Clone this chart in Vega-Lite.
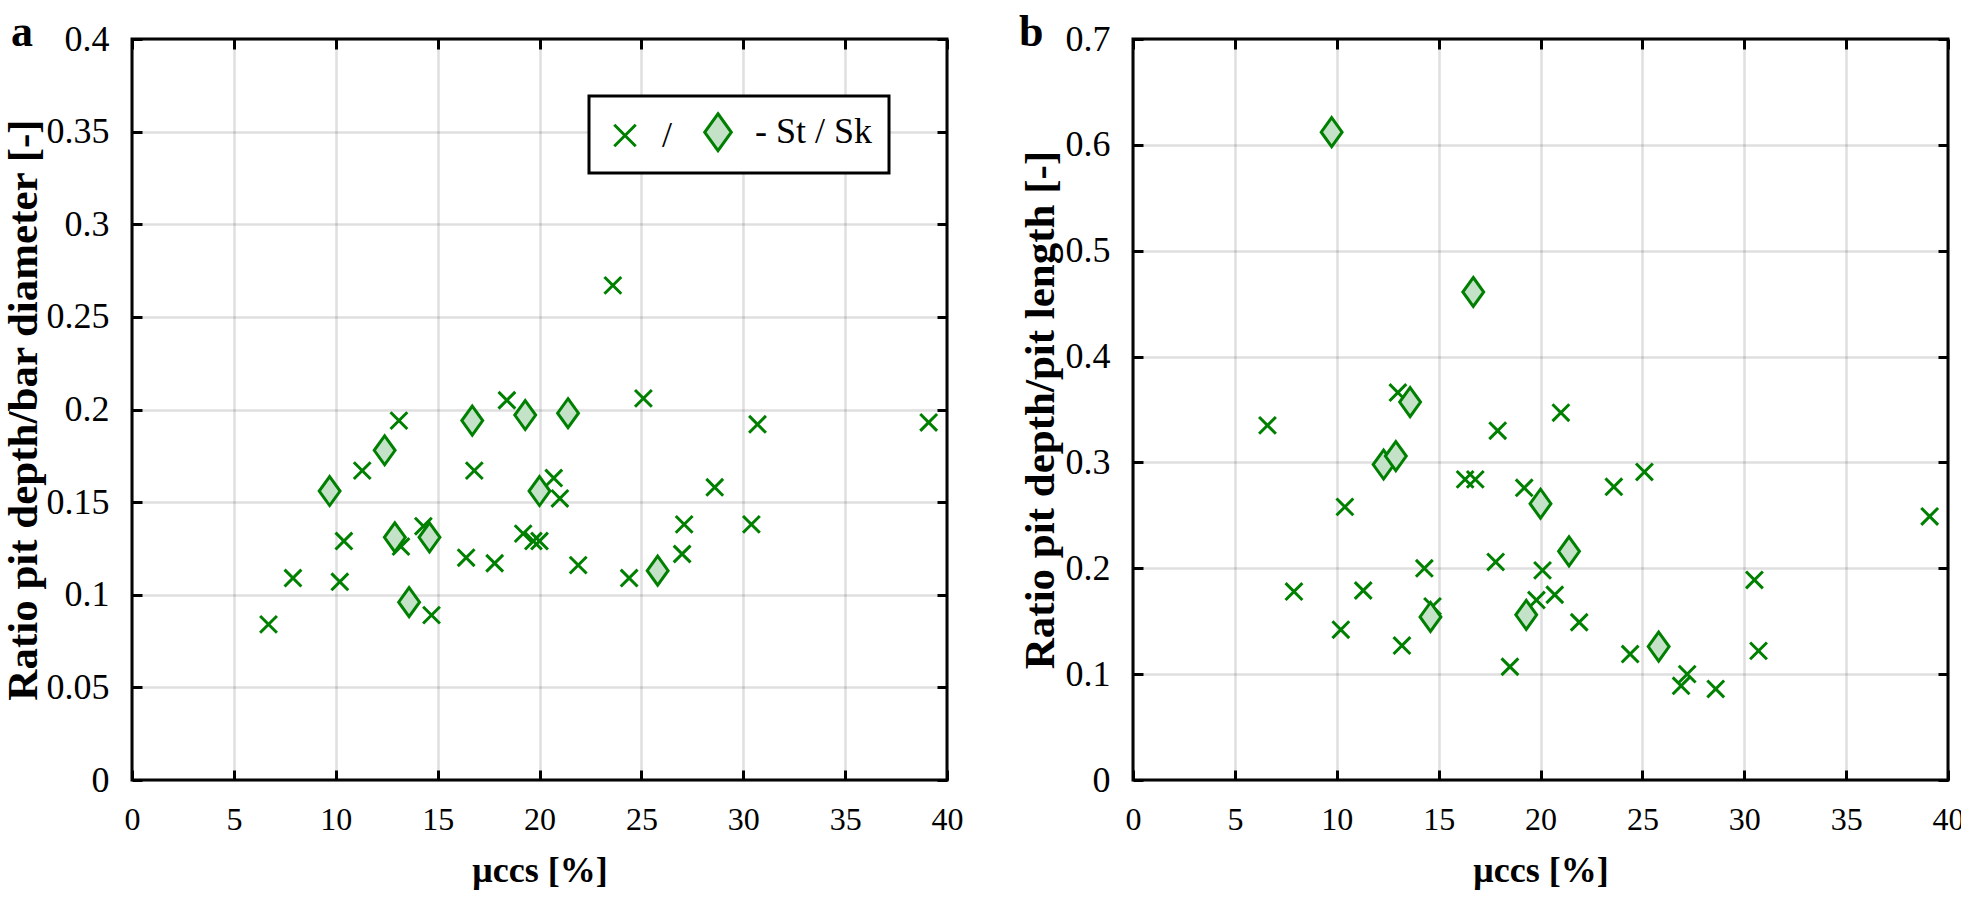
{
  "$schema": "https://vega.github.io/schema/vega-lite/v6.json",
  "background": "white",
  "padding": {"left": 0, "top": 9, "right": 0, "bottom": 0},
  "spacing": 52,
  "datasets": {
    "a": [
      {"mu": 6.7, "r": 0.084, "type": "St"},
      {"mu": 7.9, "r": 0.109, "type": "St"},
      {"mu": 10.2, "r": 0.107, "type": "St"},
      {"mu": 10.4, "r": 0.129, "type": "St"},
      {"mu": 11.3, "r": 0.167, "type": "St"},
      {"mu": 13.1, "r": 0.194, "type": "St"},
      {"mu": 13.2, "r": 0.126, "type": "St"},
      {"mu": 14.3, "r": 0.137, "type": "St"},
      {"mu": 14.7, "r": 0.089, "type": "St"},
      {"mu": 16.4, "r": 0.12, "type": "St"},
      {"mu": 16.8, "r": 0.167, "type": "St"},
      {"mu": 17.8, "r": 0.117, "type": "St"},
      {"mu": 18.4, "r": 0.205, "type": "St"},
      {"mu": 19.2, "r": 0.133, "type": "St"},
      {"mu": 19.7, "r": 0.129, "type": "St"},
      {"mu": 20.0, "r": 0.129, "type": "St"},
      {"mu": 20.7, "r": 0.163, "type": "St"},
      {"mu": 21.0, "r": 0.152, "type": "St"},
      {"mu": 21.9, "r": 0.116, "type": "St"},
      {"mu": 23.6, "r": 0.267, "type": "St"},
      {"mu": 24.4, "r": 0.109, "type": "St"},
      {"mu": 25.1, "r": 0.206, "type": "St"},
      {"mu": 27.0, "r": 0.122, "type": "St"},
      {"mu": 27.1, "r": 0.138, "type": "St"},
      {"mu": 28.6, "r": 0.158, "type": "St"},
      {"mu": 30.4, "r": 0.138, "type": "St"},
      {"mu": 30.7, "r": 0.192, "type": "St"},
      {"mu": 39.1, "r": 0.193, "type": "St"},
      {"mu": 9.7, "r": 0.156, "type": "Sk"},
      {"mu": 12.4, "r": 0.178, "type": "Sk"},
      {"mu": 12.9, "r": 0.131, "type": "Sk"},
      {"mu": 13.6, "r": 0.096, "type": "Sk"},
      {"mu": 14.6, "r": 0.131, "type": "Sk"},
      {"mu": 16.7, "r": 0.194, "type": "Sk"},
      {"mu": 19.3, "r": 0.197, "type": "Sk"},
      {"mu": 20.0, "r": 0.156, "type": "Sk"},
      {"mu": 21.4, "r": 0.198, "type": "Sk"},
      {"mu": 25.8, "r": 0.113, "type": "Sk"}
    ],
    "b": [
      {"mu": 6.6, "r": 0.335, "type": "St"},
      {"mu": 7.9, "r": 0.178, "type": "St"},
      {"mu": 10.2, "r": 0.142, "type": "St"},
      {"mu": 10.4, "r": 0.258, "type": "St"},
      {"mu": 11.3, "r": 0.179, "type": "St"},
      {"mu": 13.0, "r": 0.366, "type": "St"},
      {"mu": 13.2, "r": 0.127, "type": "St"},
      {"mu": 14.3, "r": 0.2, "type": "St"},
      {"mu": 14.7, "r": 0.164, "type": "St"},
      {"mu": 16.3, "r": 0.284, "type": "St"},
      {"mu": 16.8, "r": 0.284, "type": "St"},
      {"mu": 17.8, "r": 0.206, "type": "St"},
      {"mu": 17.9, "r": 0.33, "type": "St"},
      {"mu": 18.5, "r": 0.107, "type": "St"},
      {"mu": 19.2, "r": 0.276, "type": "St"},
      {"mu": 19.8, "r": 0.17, "type": "St"},
      {"mu": 20.1, "r": 0.198, "type": "St"},
      {"mu": 20.7, "r": 0.175, "type": "St"},
      {"mu": 21.0, "r": 0.347, "type": "St"},
      {"mu": 21.9, "r": 0.149, "type": "St"},
      {"mu": 23.6, "r": 0.277, "type": "St"},
      {"mu": 24.4, "r": 0.119, "type": "St"},
      {"mu": 25.1, "r": 0.291, "type": "St"},
      {"mu": 26.9, "r": 0.089, "type": "St"},
      {"mu": 27.2, "r": 0.1, "type": "St"},
      {"mu": 28.6, "r": 0.086, "type": "St"},
      {"mu": 30.5, "r": 0.189, "type": "St"},
      {"mu": 30.7, "r": 0.122, "type": "St"},
      {"mu": 39.1, "r": 0.249, "type": "St"},
      {"mu": 9.75, "r": 0.612, "type": "Sk"},
      {"mu": 12.3, "r": 0.298, "type": "Sk"},
      {"mu": 12.9, "r": 0.306, "type": "Sk"},
      {"mu": 13.6, "r": 0.357, "type": "Sk"},
      {"mu": 14.6, "r": 0.154, "type": "Sk"},
      {"mu": 16.7, "r": 0.461, "type": "Sk"},
      {"mu": 19.3, "r": 0.156, "type": "Sk"},
      {"mu": 20.0, "r": 0.261, "type": "Sk"},
      {"mu": 21.4, "r": 0.216, "type": "Sk"},
      {"mu": 25.8, "r": 0.126, "type": "Sk"}
    ]
  },
  "hconcat": [
    {
      "title": {"text": "a", "anchor": "start", "frame": "bounds", "fontSize": 44, "fontWeight": "bold", "font": "Liberation Serif", "color": "black", "dx": 9, "dy": 38},
      "width": 815,
      "height": 741,
      "data": {"name": "a"},
      "layer": [
        {
          "mark": {"type": "point", "strokeWidth": 3, "opacity": 1, "size": 841},
          "encoding": {
            "x": {"field": "mu", "type": "quantitative", "scale": {"domain": [0, 40], "nice": false, "zero": false},
              "axis": {"orient": "bottom", "offset": -10, "values": [0, 5, 10, 15, 20, 25, 30, 35, 40], "labelFont": "Liberation Serif", "labelFontSize": 32, "labelPadding": 24, "labelFlush": false, "labelOverlap": false, "grid": true, "title": "μccs [%]", "titleFont": "Liberation Serif", "titleFontSize": 36, "titleFontWeight": "bold", "titlePadding": 18}},
            "y": {"field": "r", "type": "quantitative", "scale": {"domain": [0, 0.4], "nice": false},
              "axis": {"orient": "left", "offset": -10, "values": [0, 0.05, 0.1, 0.15, 0.2, 0.25, 0.3, 0.35, 0.4], "format": "~g", "labelFont": "Liberation Serif", "labelFontSize": 36, "labelAlign": "right", "labelBaseline": "middle", "labelPadding": 23, "labelFlush": false, "labelOverlap": false, "grid": true, "title": "Ratio pit depth/bar diameter [-]", "titleFont": "Liberation Serif", "titleFontSize": 43, "titleFontWeight": "bold", "titlePadding": 1}},
            "shape": {"field": "type", "type": "nominal", "scale": {"domain": ["St", "Sk"], "range": ["M-0.58,-0.58L0.58,0.58M-0.58,0.58L0.58,-0.58", "M0,-1L0.72,0L0,1L-0.72,0Z"]},
              "legend": {"orient": "none", "legendX": 457, "legendY": 57, "direction": "horizontal", "title": null, "labelExpr": "datum.label == 'St' ? '/' : '- St / Sk\u00a0\u00a0\u00a0\u00a0\u00a0'", "labelFont": "Liberation Serif", "labelFontSize": 36, "labelColor": "black", "labelLimit": 400, "symbolSize": 1369, "symbolStrokeWidth": 3, "strokeColor": "black", "fillColor": "white", "padding": 16, "labelOffset": 17, "columnPadding": 25}},
            "fill": {"field": "type", "type": "nominal", "scale": {"domain": ["St", "Sk"], "range": ["transparent", "#c4e2c8"]},
              "legend": {"orient": "none", "legendX": 457, "legendY": 57, "direction": "horizontal", "title": null, "labelExpr": "datum.label == 'St' ? '/' : '- St / Sk\u00a0\u00a0\u00a0\u00a0\u00a0'", "labelFont": "Liberation Serif", "labelFontSize": 36, "labelColor": "black", "labelLimit": 400, "symbolSize": 1369, "symbolStrokeWidth": 3, "strokeColor": "black", "fillColor": "white", "padding": 16, "labelOffset": 17, "columnPadding": 25}},
            "stroke": {"field": "type", "type": "nominal", "scale": {"domain": ["St", "Sk"], "range": ["#008000", "#008000"]},
              "legend": {"orient": "none", "legendX": 457, "legendY": 57, "direction": "horizontal", "title": null, "labelExpr": "datum.label == 'St' ? '/' : '- St / Sk\u00a0\u00a0\u00a0\u00a0\u00a0'", "labelFont": "Liberation Serif", "labelFontSize": 36, "labelColor": "black", "labelLimit": 400, "symbolSize": 1369, "symbolStrokeWidth": 3, "strokeColor": "black", "fillColor": "white", "padding": 16, "labelOffset": 17, "columnPadding": 25}}
          }
        },
        {
          "mark": {"type": "point", "opacity": 0},
          "encoding": {
            "x": {"field": "mu", "type": "quantitative", "axis": {"orient": "top", "offset": -10, "values": [0, 5, 10, 15, 20, 25, 30, 35, 40], "labels": false, "grid": false, "title": null}},
            "y": {"field": "r", "type": "quantitative", "axis": {"orient": "right", "offset": -10, "values": [0, 0.05, 0.1, 0.15, 0.2, 0.25, 0.3, 0.35, 0.4], "labels": false, "grid": false, "title": null}}
          }
        }
      ],
      "resolve": {"axis": {"x": "independent", "y": "independent"}}
    },
    {
      "title": {"text": "b", "anchor": "start", "frame": "bounds", "fontSize": 44, "fontWeight": "bold", "font": "Liberation Serif", "color": "black", "dx": 0, "dy": 38},
      "width": 815,
      "height": 741,
      "data": {"name": "b"},
      "layer": [
        {
          "mark": {"type": "point", "strokeWidth": 3, "opacity": 1, "size": 841},
          "encoding": {
            "x": {"field": "mu", "type": "quantitative", "scale": {"domain": [0, 40], "nice": false, "zero": false},
              "axis": {"orient": "bottom", "offset": -10, "values": [0, 5, 10, 15, 20, 25, 30, 35, 40], "labelFont": "Liberation Serif", "labelFontSize": 32, "labelPadding": 24, "labelFlush": false, "labelOverlap": false, "grid": true, "title": "μccs [%]", "titleFont": "Liberation Serif", "titleFontSize": 36, "titleFontWeight": "bold", "titlePadding": 18}},
            "y": {"field": "r", "type": "quantitative", "scale": {"domain": [0, 0.7], "nice": false},
              "axis": {"orient": "left", "offset": -10, "values": [0, 0.1, 0.2, 0.3, 0.4, 0.5, 0.6, 0.7], "format": "~g", "labelFont": "Liberation Serif", "labelFontSize": 36, "labelAlign": "right", "labelBaseline": "middle", "labelPadding": 23, "labelFlush": false, "labelOverlap": false, "grid": true, "title": "Ratio pit depth/pit length [-]", "titleFont": "Liberation Serif", "titleFontSize": 43, "titleFontWeight": "bold", "titlePadding": 3}},
            "shape": {"field": "type", "type": "nominal", "scale": {"domain": ["St", "Sk"], "range": ["M-0.58,-0.58L0.58,0.58M-0.58,0.58L0.58,-0.58", "M0,-1L0.72,0L0,1L-0.72,0Z"]},
              "legend": {"orient": "none", "legendX": 453, "legendY": 58, "direction": "horizontal", "title": null, "labelExpr": "datum.label == 'St' ? '/' : '- St / Sk\u00a0\u00a0\u00a0\u00a0\u00a0'", "labelFont": "Liberation Serif", "labelFontSize": 36, "labelColor": "black", "labelLimit": 400, "symbolSize": 1369, "symbolStrokeWidth": 3, "strokeColor": "black", "fillColor": "white", "padding": 16, "labelOffset": 17, "columnPadding": 25}},
            "fill": {"field": "type", "type": "nominal", "scale": {"domain": ["St", "Sk"], "range": ["transparent", "#c4e2c8"]},
              "legend": {"orient": "none", "legendX": 453, "legendY": 58, "direction": "horizontal", "title": null, "labelExpr": "datum.label == 'St' ? '/' : '- St / Sk\u00a0\u00a0\u00a0\u00a0\u00a0'", "labelFont": "Liberation Serif", "labelFontSize": 36, "labelColor": "black", "labelLimit": 400, "symbolSize": 1369, "symbolStrokeWidth": 3, "strokeColor": "black", "fillColor": "white", "padding": 16, "labelOffset": 17, "columnPadding": 25}},
            "stroke": {"field": "type", "type": "nominal", "scale": {"domain": ["St", "Sk"], "range": ["#008000", "#008000"]},
              "legend": {"orient": "none", "legendX": 453, "legendY": 58, "direction": "horizontal", "title": null, "labelExpr": "datum.label == 'St' ? '/' : '- St / Sk\u00a0\u00a0\u00a0\u00a0\u00a0'", "labelFont": "Liberation Serif", "labelFontSize": 36, "labelColor": "black", "labelLimit": 400, "symbolSize": 1369, "symbolStrokeWidth": 3, "strokeColor": "black", "fillColor": "white", "padding": 16, "labelOffset": 17, "columnPadding": 25}}
          }
        },
        {
          "mark": {"type": "point", "opacity": 0},
          "encoding": {
            "x": {"field": "mu", "type": "quantitative", "axis": {"orient": "top", "offset": -10, "values": [0, 5, 10, 15, 20, 25, 30, 35, 40], "labels": false, "grid": false, "title": null}},
            "y": {"field": "r", "type": "quantitative", "axis": {"orient": "right", "offset": -10, "values": [0, 0.1, 0.2, 0.3, 0.4, 0.5, 0.6, 0.7], "labels": false, "grid": false, "title": null}}
          }
        }
      ],
      "resolve": {"axis": {"x": "independent", "y": "independent"}}
    }
  ],
  "config": {
    "font": "Liberation Serif",
    "view": {"stroke": "black", "strokeWidth": 3},
    "legend": {"strokeColor": "black", "strokeWidth": 3},
    "axis": {"labelFont": "Liberation Serif", "titleFont": "Liberation Serif", "labelColor": "black", "titleColor": "black", "domain": false, "ticks": true, "tickColor": "black", "tickWidth": 3, "tickSize": 10, "gridColor": "#262626", "gridOpacity": 0.15, "gridWidth": 2.5}
  }
}
